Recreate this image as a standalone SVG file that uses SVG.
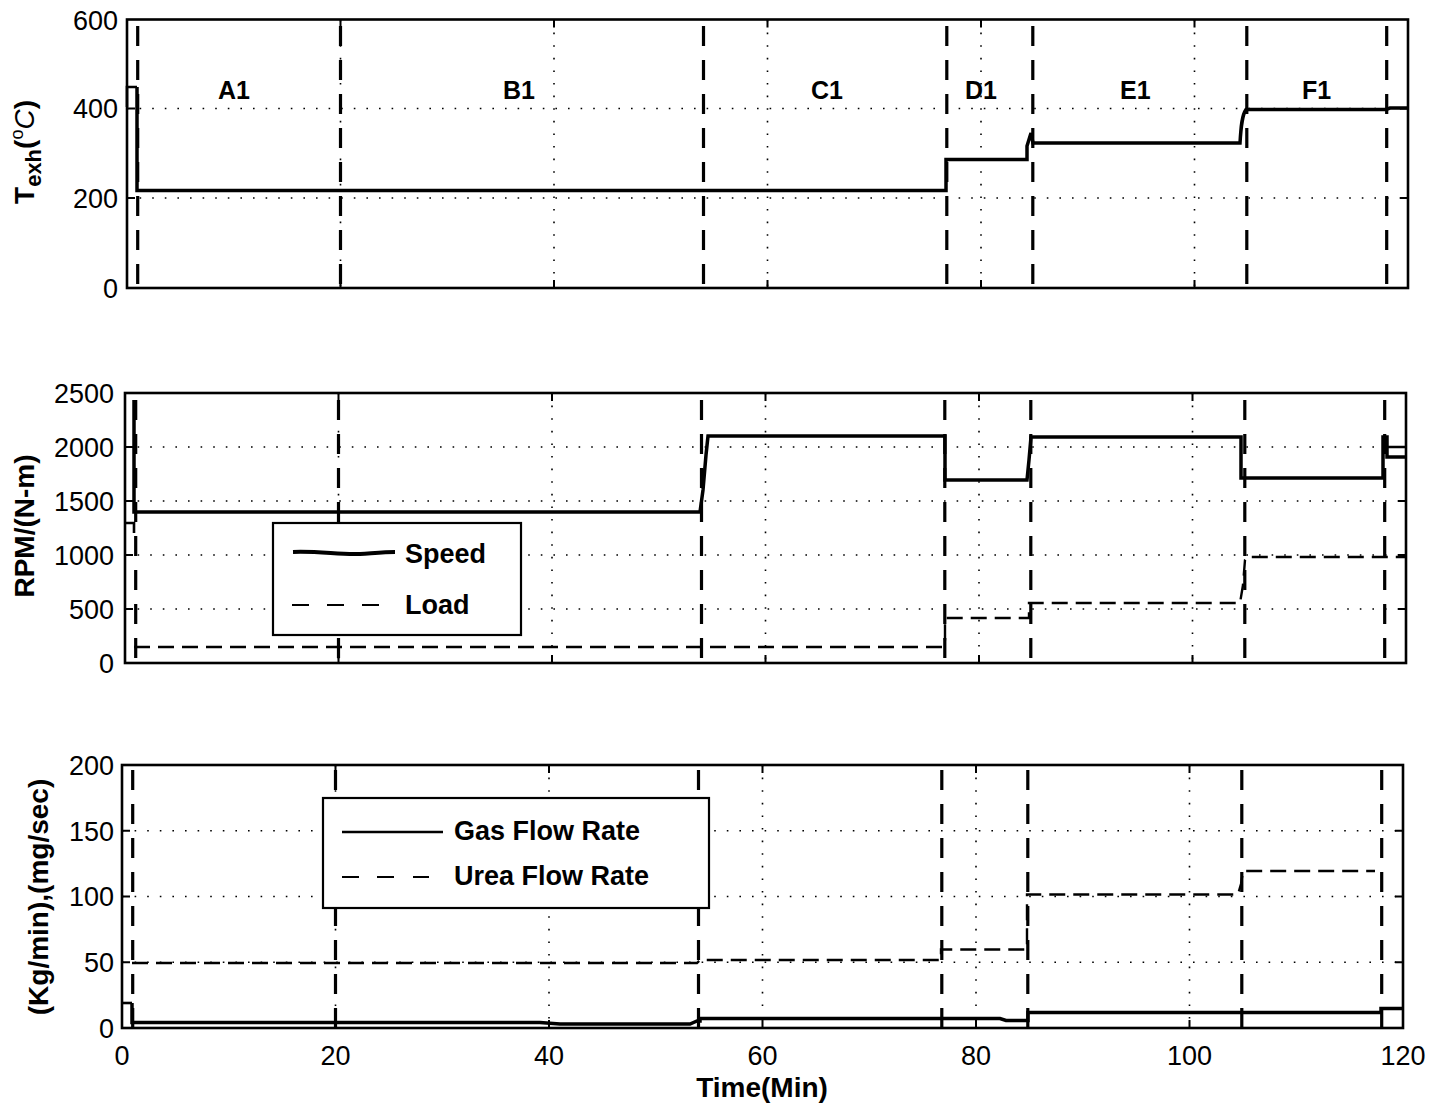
<svg xmlns="http://www.w3.org/2000/svg" width="1435" height="1108" viewBox="0 0 1435 1108">
<style>
.frame{fill:none;stroke:#000;stroke-width:2.6}
.grid{fill:none;stroke:#000;stroke-width:1.6;stroke-dasharray:1.6 11}
.ev{fill:none;stroke:#000;stroke-width:3.2;stroke-dasharray:20 14}
.tick{fill:none;stroke:#000;stroke-width:2}
.solid{fill:none;stroke:#000;stroke-width:3.5;stroke-linejoin:miter}
.thin{fill:none;stroke:#000;stroke-width:2.6}
.dash{fill:none;stroke:#000;stroke-width:2.4;stroke-dasharray:16 8}
.leg{fill:#fff;stroke:#000;stroke-width:2.2}
.num{font-family:"Liberation Sans",Arial,sans-serif;font-size:27px;fill:#000}
.lab{font-family:"Liberation Sans",Arial,sans-serif;font-size:28px;font-weight:bold;fill:#000}
.sec{font-family:"Liberation Sans",Arial,sans-serif;font-size:25px;font-weight:bold;fill:#000}
.lt{font-family:"Liberation Sans",Arial,sans-serif;font-size:27px;font-weight:bold;fill:#000}
</style>
<rect width="1435" height="1108" fill="#fff"/>

<!-- ===== Plot 1 ===== -->
<g id="plot1">
  <g id="plot1-grid">
    <path class="grid" d="M127,198 H1408 M127,108.5 H1408 M340.5,20 V288 M554,20 V288 M767.5,20 V288 M981,20 V288 M1194.5,20 V288"/>
  </g>
  <g id="plot1-events">
    <path class="ev" d="M137.7,26 V288 M340.5,26 V288 M703.5,26 V288 M946.8,26 V288 M1032.8,26 V288 M1246.8,26 V288 M1386.7,26 V288"/>
  </g>
  <g id="plot1-texh">
    <path class="thin" d="M127,107 V87 H137"/>
    <path class="solid" d="M137,87 V190.5 H946 V159.5 H1027 V146 L1031,133 L1033,143 H1240 C1241,126 1242,115 1246,109.5 H1386 L1390,108 H1408"/>
  </g>
  <rect class="frame" x="127" y="19.5" width="1281" height="268.5"/>
  <path class="tick" d="M340.5,288 v-8 M554,288 v-8 M767.5,288 v-8 M981,288 v-8 M1194.5,288 v-8 M340.5,19.5 v8 M554,19.5 v8 M767.5,19.5 v8 M981,19.5 v8 M1194.5,19.5 v8 M127,198 h8 M127,108.5 h8 M1408,198 h-8 M1408,108.5 h-8"/>
  <g id="plot1-yticks" class="num" text-anchor="end">
    <text x="118" y="29.5">600</text>
    <text x="118" y="118">400</text>
    <text x="118" y="207.5">200</text>
    <text x="118" y="297.5">0</text>
  </g>
  <text class="lab" transform="translate(34,152) rotate(-90)" text-anchor="middle" font-size="29">T<tspan font-size="22" dy="7">exh</tspan><tspan dy="-7">(</tspan><tspan font-size="18" font-weight="normal" dy="-11">o</tspan><tspan font-weight="normal" font-style="italic" dy="11">C</tspan>)</text>
  <g id="sections">
    <text class="sec" x="218" y="99">A1</text>
    <text class="sec" x="503" y="99">B1</text>
    <text class="sec" x="811" y="99">C1</text>
    <text class="sec" x="965" y="99">D1</text>
    <text class="sec" x="1120" y="99">E1</text>
    <text class="sec" x="1302" y="99">F1</text>
  </g>
</g>

<!-- ===== Plot 2 ===== -->
<g id="plot2">
  <g id="plot2-grid">
    <path class="grid" d="M125,609 H1406 M125,555 H1406 M125,501 H1406 M125,447 H1406 M338.5,393 V663 M552,393 V663 M765.5,393 V663 M979,393 V663 M1192.5,393 V663"/>
  </g>
  <g id="plot2-events">
    <path class="ev" d="M135.7,400 V663 M338.5,400 V663 M701.5,400 V663 M944.8,400 V663 M1030.8,400 V663 M1244.8,400 V663 M1384.7,400 V663"/>
  </g>
  <g id="plot2-speed">
    <path class="solid" d="M134,400 V512 H700 L703,490 L706,455 L708,436 H945 V480 H1027 L1029,460 L1031,437 H1241 V478 H1383 V437 H1387 V457 H1406"/>
    <path class="thin" d="M1387,447 H1406 M126,523 H134 V533"/>
  </g>
  <g id="plot2-load">
    <path class="dash" d="M134,647 H943 L945,640 V618 H1029 V603 H1240 L1243,585 L1245,560 L1247,557 H1406"/>
  </g>
  <g id="legend2">
    <rect class="leg" x="273" y="523" width="248" height="112"/>
    <path d="M293,552 C320,551 340,555 360,554 C375,553 385,552 395,552" fill="none" stroke="#000" stroke-width="4"/>
    <text class="lt" x="405" y="563">Speed</text>
    <path d="M292,605 H309 M327,605 H344 M362,605 H379" fill="none" stroke="#000" stroke-width="2.2"/>
    <text class="lt" x="405" y="614">Load</text>
  </g>
  <rect class="frame" x="125" y="393" width="1281" height="270"/>
  <path class="tick" d="M338.5,663 v-8 M552,663 v-8 M765.5,663 v-8 M979,663 v-8 M1192.5,663 v-8 M338.5,393 v8 M552,393 v8 M765.5,393 v8 M979,393 v8 M1192.5,393 v8 M125,609 h8 M125,555 h8 M125,501 h8 M125,447 h8 M1406,609 h-8 M1406,555 h-8 M1406,501 h-8 M1406,447 h-8"/>
  <g id="plot2-yticks" class="num" text-anchor="end">
    <text x="114" y="402.5">2500</text>
    <text x="114" y="456.5">2000</text>
    <text x="114" y="510.5">1500</text>
    <text x="114" y="564.5">1000</text>
    <text x="114" y="618.5">500</text>
    <text x="114" y="672.5">0</text>
  </g>
  <text class="lab" transform="translate(33.5,526) rotate(-90)" text-anchor="middle">RPM/(N-m)</text>
</g>

<!-- ===== Plot 3 ===== -->
<g id="plot3">
  <g id="plot3-grid">
    <path class="grid" d="M122,962.3 H1403 M122,896.5 H1403 M122,830.8 H1403 M335.5,765 V1028 M549,765 V1028 M762.5,765 V1028 M976,765 V1028 M1189.5,765 V1028"/>
  </g>
  <g id="plot3-events">
    <path class="ev" d="M132.7,770 V1028 M335.5,770 V1028 M698.5,770 V1028 M941.8,770 V1028 M1027.8,770 V1028 M1241.8,770 V1028 M1381.7,770 V1028"/>
  </g>
  <g id="plot3-gas">
    <path class="thin" d="M122,1003 H132"/>
    <path class="solid" d="M132,1003 V1022.5 H540 L560,1024 H690 L697,1021 H700 V1018.5 H1000 L1006,1020.5 H1028 V1012.5 H1381 V1008.5 H1403"/>
  </g>
  <g id="plot3-urea">
    <path class="dash" d="M132,963 H697 L700,960 H941 V949.5 H1027 V894.5 H1238 L1241,884 L1243,871 H1375"/>
  </g>
  <g id="legend3">
    <rect class="leg" x="323" y="798" width="386" height="110"/>
    <path d="M342,832 H443" fill="none" stroke="#000" stroke-width="2.6"/>
    <text class="lt" x="454" y="840">Gas Flow Rate</text>
    <path d="M342,877 H359 M377,877 H394 M413,877 H429" fill="none" stroke="#000" stroke-width="2.2"/>
    <text class="lt" x="454" y="885">Urea Flow Rate</text>
  </g>
  <rect class="frame" x="122" y="765" width="1281" height="263"/>
  <path class="tick" d="M335.5,1028 v-8 M549,1028 v-8 M762.5,1028 v-8 M976,1028 v-8 M1189.5,1028 v-8 M335.5,765 v8 M549,765 v8 M762.5,765 v8 M976,765 v8 M1189.5,765 v8 M122,962.3 h8 M122,896.5 h8 M122,830.8 h8 M1403,962.3 h-8 M1403,896.5 h-8 M1403,830.8 h-8"/>
  <g id="plot3-yticks" class="num" text-anchor="end">
    <text x="114" y="774.5">200</text>
    <text x="114" y="840.5">150</text>
    <text x="114" y="906">100</text>
    <text x="114" y="971.5">50</text>
    <text x="114" y="1037.5">0</text>
  </g>
  <g id="plot3-xticks" class="num" text-anchor="middle">
    <text x="122" y="1065">0</text>
    <text x="335.5" y="1065">20</text>
    <text x="549" y="1065">40</text>
    <text x="762.5" y="1065">60</text>
    <text x="976" y="1065">80</text>
    <text x="1189.5" y="1065">100</text>
    <text x="1403" y="1065">120</text>
  </g>
  <text class="lab" transform="translate(48,897) rotate(-90)" text-anchor="middle">(Kg/min),(mg/sec)</text>
  <text class="lab" x="762" y="1097" text-anchor="middle" font-size="27.5">Time(Min)</text>
</g>
</svg>
